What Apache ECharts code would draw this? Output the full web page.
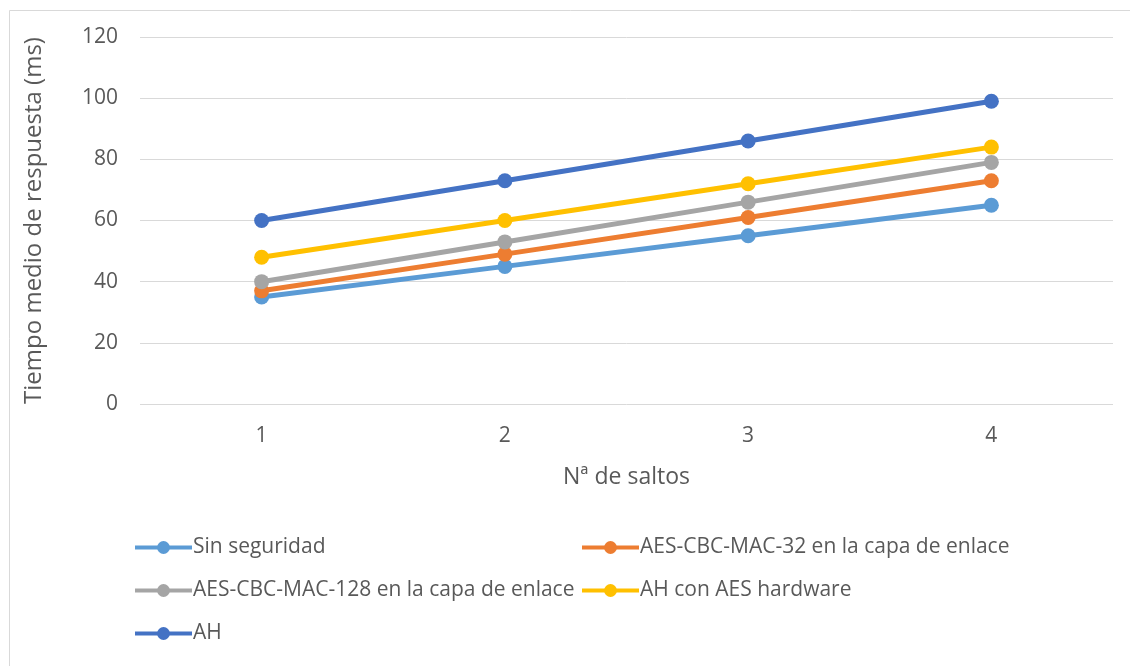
<!DOCTYPE html>
<html>
<head>
<meta charset="utf-8">
<script src="https://cdn.jsdelivr.net/npm/echarts@6/dist/echarts.min.js"></script>
<style>html,body{margin:0;padding:0;background:#fff}#c{width:1130px;height:666px}</style>
</head>
<body>
<div id="c"></div>
<script>
const categories = ['1', '2', '3', '4'];
const seriesNames = ['Sin seguridad', 'AES-CBC-MAC-32 en la capa de enlace', 'AES-CBC-MAC-128 en la capa de enlace', 'AH con AES hardware', 'AH'];
const sinSeguridad = [35, 45, 55, 65];
const aes32 = [37, 49, 61, 73];
const aes128 = [40, 53, 66, 79];
const ahHardware = [48, 60, 72, 84];
const ah = [60, 73, 86, 99];
const colors = ['#5B9BD5', '#ED7D31', '#A5A5A5', '#FFC000', '#4472C4'];
const values = [sinSeguridad, aes32, aes128, ahHardware, ah];

const FONT = 'Open Sans';
const legendPos = [
  {left: 133, top: 537}, {left: 580, top: 537},
  {left: 133, top: 580}, {left: 580, top: 580},
  {left: 133, top: 623}
];

const chart = echarts.init(document.getElementById('c'));
chart.setOption({
  backgroundColor: '#fff',
  animation: false,
  graphic: [{
    type: 'rect', left: 7, top: 8, shape: {width: 1200, height: 700},
    style: {fill: 'none', stroke: '#D9D9D9', lineWidth: 1}
  }],
  legend: seriesNames.map((n, i) => ({
    data: [n], left: legendPos[i].left, top: legendPos[i].top,
    itemWidth: 57, itemHeight: 16, itemGap: 0, padding: 0,
    lineStyle: {width: 4},
    textStyle: {fontFamily: FONT, fontSize: 21, color: '#595959', padding: [0, 0, 0, -4]}
  })),
  grid: {left: 140, right: 17, top: 37, bottom: 262, containLabel: false},
  xAxis: {
    type: 'category', data: categories, boundaryGap: true,
    name: 'Nª de saltos', nameLocation: 'middle', nameGap: 62,
    nameTextStyle: {fontFamily: FONT, fontSize: 23, color: '#595959'},
    axisLine: {show: false}, axisTick: {show: false},
    axisLabel: {fontFamily: FONT, fontSize: 21, color: '#595959', margin: 22}
  },
  yAxis: {
    type: 'value', min: 0, max: 120, interval: 20,
    name: 'Tiempo medio de respuesta (ms)', nameLocation: 'middle', nameGap: 94,
    nameTextStyle: {fontFamily: FONT, fontSize: 24, color: '#595959'},
    axisLine: {show: false}, axisTick: {show: false},
    axisLabel: {fontFamily: FONT, fontSize: 21, color: '#595959', margin: 22},
    splitLine: {lineStyle: {color: '#D9D9D9', width: 1}}
  },
  series: seriesNames.map((n, i) => ({
    name: n, type: 'line', data: values[i],
    symbol: 'circle', symbolSize: 15,
    lineStyle: {color: colors[i], width: 5},
    itemStyle: {color: colors[i]},
    z: 2 + i
  }))
});
</script>
</body>
</html>
